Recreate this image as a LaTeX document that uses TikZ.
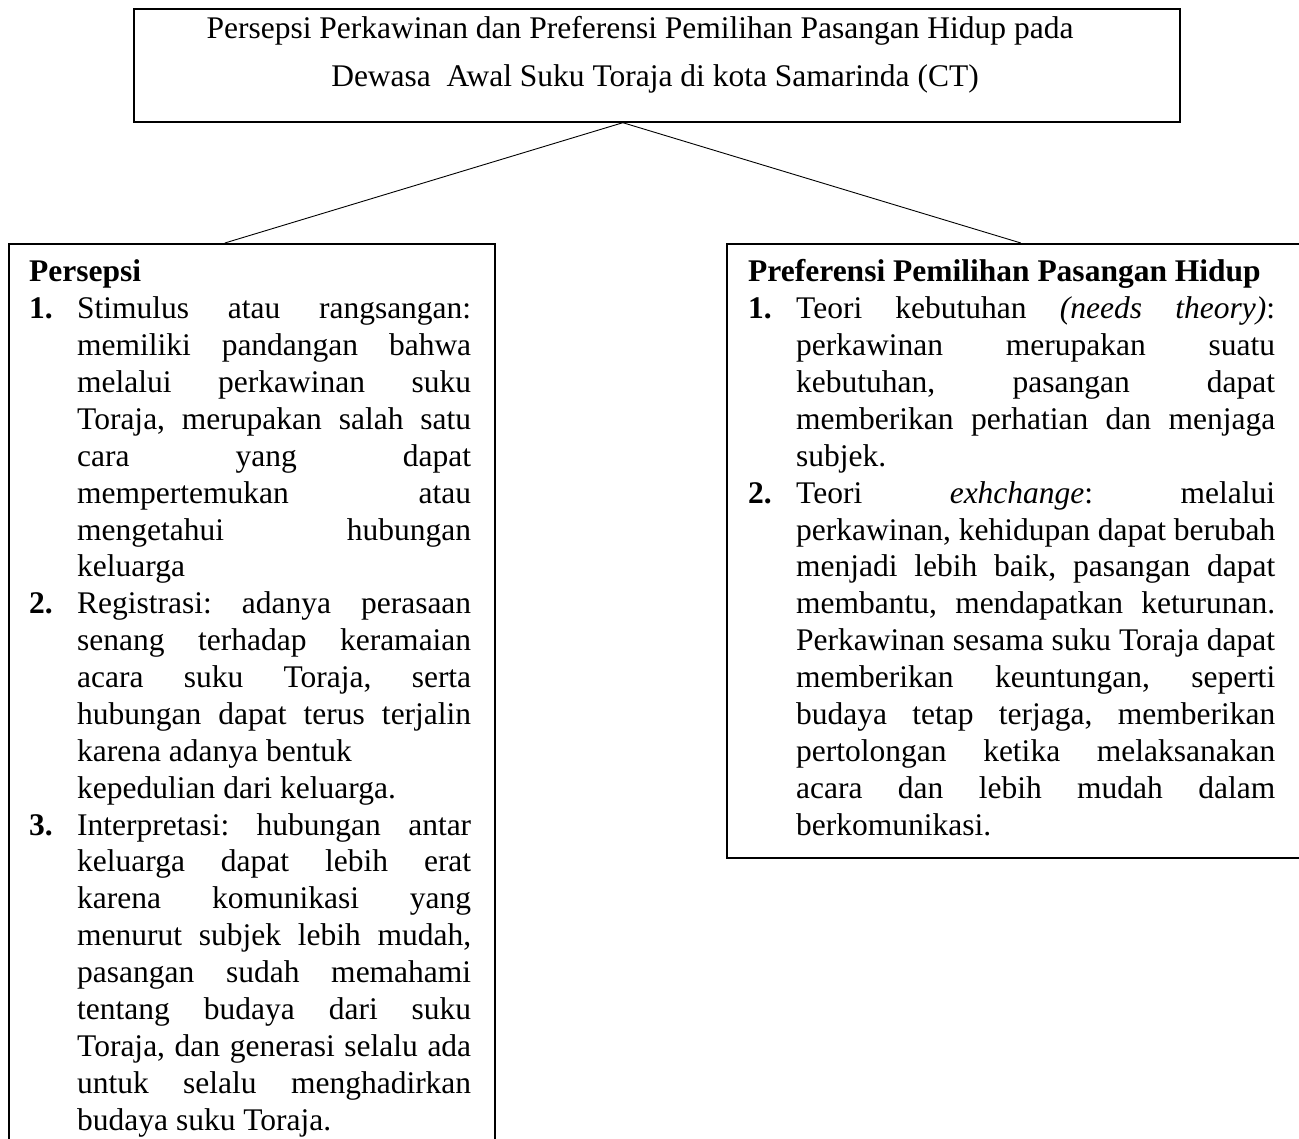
\documentclass[tikz,border=0pt]{standalone}
\usepackage{fontspec}
\setmainfont{Liberation Serif}
\newlength\itw
\newcommand\numline[2]{\noindent\makebox[48pt][l]{\textbf{#1}}\makebox[\itw][s]{#2}\par}
\newcommand\jline[1]{\noindent\makebox[48pt]{}\makebox[\itw][s]{#1}\par}
\newcommand\lline[1]{\noindent\makebox[48pt]{}#1\par}
\newcommand\headline[1]{\noindent\textbf{#1}\par}
\newcommand\bodyfont{\frenchspacing\setlength\parindent{0pt}\setlength\parskip{0pt}\fontsize{31.5}{36.87}\selectfont}
\tikzset{
  frame/.style={draw=black, line width=1.7pt, rectangle, inner sep=0pt, anchor=north west},
  link/.style={draw=black, line width=0.9pt},
  txt/.style={inner sep=0pt, anchor=base west, align=left},
  ttl/.style={inner sep=0pt, anchor=base, font=\frenchspacing\fontsize{31.5}{36.87}\selectfont}
}
\begin{document}
\begin{tikzpicture}[x=1pt, y=-1pt]
\useasboundingbox (0,0) rectangle (1299,1139);
% boxes
\node[frame, minimum width=1046pt, minimum height=113pt] (top) at (133,8) {};
\node[frame, minimum width=486pt, minimum height=930pt] (lbox) at (8,243) {};
\node[frame, minimum width=588pt, minimum height=614pt] (rbox) at (726,243) {};
% title
\node[ttl] (t1) at (640,39) {Persepsi Perkawinan dan Preferensi Pemilihan Pasangan Hidup pada};
\node[ttl] (t2) at (655,87) {Dewasa \ Awal Suku Toraja di kota Samarinda (CT)};
% connectors
\draw[link] ([xshift=-34pt]top.south) -- ([xshift=-27pt]lbox.north);
\draw[link] ([xshift=-34pt]top.south) -- (rbox.north);
% left text
\node[txt] (ltext) at (29,282) {\parbox[t]{443pt}{\bodyfont\setlength\itw{394pt}%
\headline{Persepsi}
\numline{1.}{Stimulus atau rangsangan:}
\jline{memiliki pandangan bahwa}
\jline{melalui perkawinan suku}
\jline{Toraja, merupakan salah satu}
\jline{cara yang dapat}
\jline{mempertemukan atau}
\jline{mengetahui hubungan}
\lline{keluarga}
\numline{2.}{Registrasi: adanya perasaan}
\jline{senang terhadap keramaian}
\jline{acara suku Toraja, serta}
\jline{hubungan dapat terus terjalin}
\lline{karena adanya bentuk}
\lline{kepedulian dari keluarga.}
\numline{3.}{Interpretasi: hubungan antar}
\jline{keluarga dapat lebih erat}
\jline{karena komunikasi yang}
\jline{menurut subjek lebih mudah,}
\jline{pasangan sudah memahami}
\jline{tentang budaya dari suku}
\jline{Toraja, dan generasi selalu ada}
\jline{untuk selalu menghadirkan}
\lline{budaya suku Toraja.}
}};
% right text
\node[txt] (rtext) at (748,282) {\parbox[t]{528pt}{\bodyfont\setlength\itw{479pt}%
\headline{Preferensi Pemilihan Pasangan Hidup}
\numline{1.}{Teori kebutuhan \textit{(needs theory)}:}
\jline{perkawinan merupakan suatu}
\jline{kebutuhan, pasangan dapat}
\jline{memberikan perhatian dan menjaga}
\lline{subjek.}
\numline{2.}{Teori \textit{exhchange}: melalui}
\jline{perkawinan, kehidupan dapat berubah}
\jline{menjadi lebih baik, pasangan dapat}
\jline{membantu, mendapatkan keturunan.}
\jline{Perkawinan sesama suku Toraja dapat}
\jline{memberikan keuntungan, seperti}
\jline{budaya tetap terjaga, memberikan}
\jline{pertolongan ketika melaksanakan}
\jline{acara dan lebih mudah dalam}
\lline{berkomunikasi.}
}};
\end{tikzpicture}
\end{document}
